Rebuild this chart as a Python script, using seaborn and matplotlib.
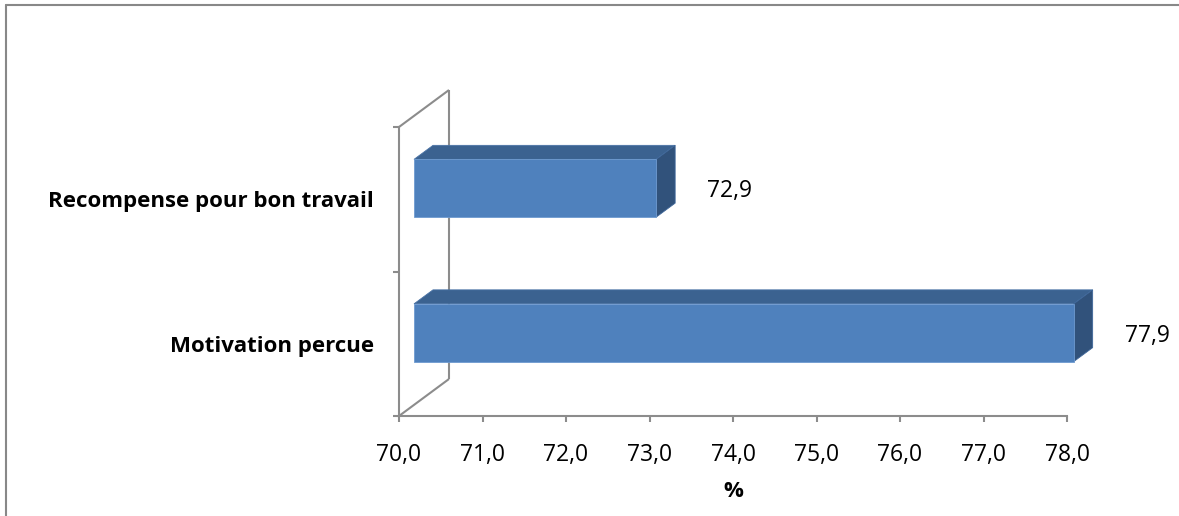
import matplotlib
matplotlib.use("Agg")
import matplotlib.pyplot as plt
import matplotlib.transforms as mtrans
from matplotlib.patches import Polygon
from matplotlib.lines import Line2D
import seaborn as sns
import pandas as pd

categories = ["Recompense pour bon travail", "Motivation percue"]
values = [72.9, 77.9]
value_labels = ["72,9", "77,9"]
xticks = [70, 71, 72, 73, 74, 75, 76, 77, 78]
xtick_labels = ["70,0", "71,0", "72,0", "73,0", "74,0", "75,0", "76,0", "77,0", "78,0"]
x_title = "%"

sns.set_theme(style="white")
plt.rcParams['font.family'] = ['Open Sans', 'DejaVu Sans']

W, H, DPI = 1179, 516, 100
fig = plt.figure(figsize=(W / DPI, H / DPI), dpi=DPI)
fig.patch.set_facecolor("white")
ax = fig.add_axes([399 / W, 100 / H, 668 / W, 289 / H])

df = pd.DataFrame({"cat": categories, "val": values})
sns.barplot(data=df, y="cat", x="val", orient="h", width=0.4,
            color="#4F81BD", saturation=1, ax=ax)

XMIN, XMAX = 70, 78
ax.set_xlim(XMIN, XMAX)
ax.set_ylim(1.5, -0.5)

GRAY = "#8C8C8C"
FRONT = (15, 11)   # px offset of bar front face (right, up)
BACK = (34, 25)    # px offset of bar back face
WALL = (50, 37)    # px offset of back wall

def disp(x, y, off=(0, 0)):
    px, py = ax.transData.transform((x, y))
    return (px + off[0], py + off[1])

ident = mtrans.IdentityTransform()

# walls (back wall vertical + two diagonals)
p_top_front = disp(XMIN, -0.5)
p_bot_front = disp(XMIN, 1.5)
p_top_back = disp(XMIN, -0.5, WALL)
p_bot_back = disp(XMIN, 1.5, WALL)
for a, b in [(p_top_front, p_top_back), (p_bot_front, p_bot_back), (p_top_back, p_bot_back)]:
    ax.add_line(Line2D([a[0], b[0]], [a[1], b[1]], transform=ident, color=GRAY,
                       lw=1.5, clip_on=False, zorder=1, solid_capstyle="butt"))

# bars with 3D faces
for patch, v, lab in zip(ax.patches, values, value_labels):
    y0 = patch.get_y()
    h = patch.get_height()
    patch.set_x(XMIN)
    patch.set_width(v - XMIN)
    patch.set_visible(False)
    y_top, y_bot = y0, y0 + h
    # front face
    f = [disp(XMIN, y_top, FRONT), disp(v, y_top, FRONT), disp(v, y_bot, FRONT), disp(XMIN, y_bot, FRONT)]
    ax.add_patch(Polygon(f, closed=True, transform=ident, facecolor="#4F81BD",
                         edgecolor="#6E9AD0", lw=0.6, clip_on=False, zorder=4))
    # top face
    t = [disp(XMIN, y_top, FRONT), disp(v, y_top, FRONT), disp(v, y_top, BACK), disp(XMIN, y_top, BACK)]
    ax.add_patch(Polygon(t, closed=True, transform=ident, facecolor="#3B6290",
                         edgecolor="#4A73A6", lw=0.6, clip_on=False, zorder=3))
    # side face
    s = [disp(v, y_top, FRONT), disp(v, y_top, BACK), disp(v, y_bot, BACK), disp(v, y_bot, FRONT)]
    ax.add_patch(Polygon(s, closed=True, transform=ident, facecolor="#31527B",
                         edgecolor="#3F679A", lw=0.6, clip_on=False, zorder=3))
    # value label
    lx, ly = disp(v, y0 + h / 2, (66, 8))
    ax.text(lx, ly, lab, transform=ident, ha="left", va="center",
            fontsize=16.5, color="black")

# axes styling
for side in ["top", "right"]:
    ax.spines[side].set_visible(False)
for side in ["left", "bottom"]:
    ax.spines[side].set_color(GRAY)
    ax.spines[side].set_linewidth(1.5)

ax.set_xticks(xticks)
ax.set_xticklabels(xtick_labels, fontsize=16.5, color="black")
ax.tick_params(axis="x", which="major", direction="out", length=4.5, width=1.5,
               color=GRAY, pad=15, bottom=True)

ax.set_yticks([-0.5, 0.5, 1.5])
ax.set_yticklabels(["", "", ""])
ax.tick_params(axis="y", which="major", direction="out", length=4.5, width=1.5,
               color=GRAY, left=True)
ax.set_yticks([0, 1], minor=True)
ax.set_yticklabels(categories, minor=True, fontsize=16, fontweight="bold", color="black")
ax.tick_params(axis="y", which="minor", length=0, pad=18)

ax.set_ylabel("")
ax.set_xlabel(x_title, fontsize=16, fontweight="bold", color="black", labelpad=10)
ax.patch.set_alpha(0)

# outer frame (top and left only)
fig.add_artist(Line2D([6 / W, 1], [1 - 5 / H, 1 - 5 / H], transform=fig.transFigure,
                      color="#888888", lw=1.5))
fig.add_artist(Line2D([6 / W, 6 / W], [0, 1 - 5 / H], transform=fig.transFigure,
                      color="#888888", lw=1.5))

fig.savefig("out.png", dpi=DPI, facecolor="white")
